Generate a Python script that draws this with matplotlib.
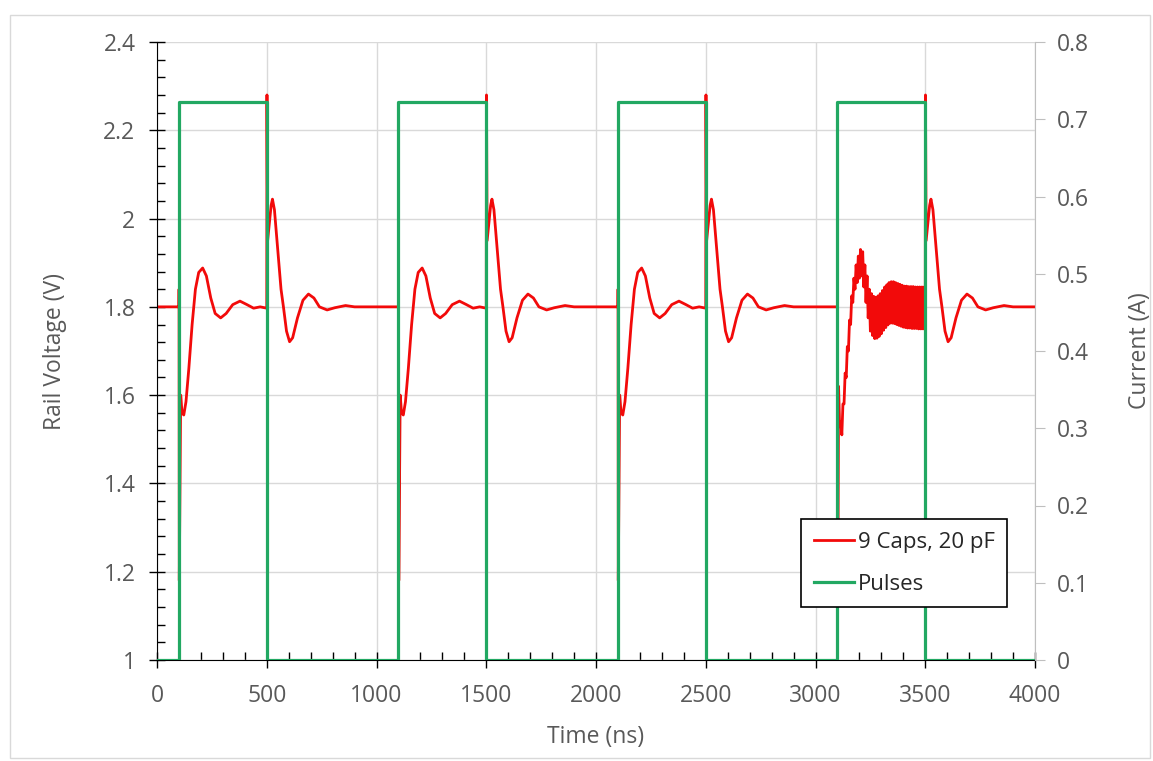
import numpy as np
import matplotlib
matplotlib.use("Agg")
import matplotlib.pyplot as plt
from matplotlib.ticker import MultipleLocator, FuncFormatter
from matplotlib.patches import Rectangle

plt.rcParams['font.family'] = ['Open Sans', 'DejaVu Sans']

# pulse timing (ns) and current level (A)
pulse_starts = [100, 1100, 2100, 3100]
pulse_width = 400
pulse_level = 0.722
t_end = 4000
v_rest = 1.80

# rail response after the rising edge: offset (ns) from pulse start, volts
rise_off = [0, 0.5, 1.5, 8, 14, 22, 32, 45, 60, 75, 90, 108, 125, 145, 165, 190,
            215, 245, 278, 310, 340, 370, 399]
rise_v = [1.800, 1.840, 1.180, 1.600, 1.560, 1.555, 1.585, 1.660, 1.760, 1.840,
          1.878, 1.888, 1.870, 1.820, 1.785, 1.775, 1.785, 1.805, 1.813, 1.805,
          1.797, 1.800, 1.797]

# rail response after the falling edge: offset (ns) from pulse end, volts
fall_off = [0, 1, 4, 10, 20, 26, 35, 50, 65, 76, 90, 104, 118, 140, 165, 190,
            215, 240, 275, 310, 359, 400, 500, 600]
fall_v = [1.797, 2.280, 1.950, 1.980, 2.030, 2.044, 2.020, 1.930, 1.840, 1.800,
          1.745, 1.721, 1.730, 1.775, 1.815, 1.829, 1.820, 1.800, 1.793, 1.798,
          1.803, 1.800, 1.800, 1.800]

# last pulse rings at high frequency, sampled every 5 ns from 3105 to 3495
ring_start = [3100, 3100.5, 3101.5]
ring_start_v = [1.800, 1.840, 1.180]
ring_v = [
    1.62, 1.53, 1.54, 1.51, 1.58, 1.58, 1.65, 1.64, 1.71, 1.70,
    1.77, 1.76, 1.825, 1.81, 1.865, 1.84, 1.895, 1.855, 1.915, 1.865,
    1.93, 1.87, 1.925, 1.845, 1.895, 1.81, 1.87, 1.775, 1.84, 1.745,
    1.83, 1.735, 1.824, 1.728, 1.822, 1.729, 1.825, 1.733, 1.83, 1.739,
    1.837, 1.747, 1.845, 1.753, 1.85, 1.759, 1.855, 1.763, 1.857, 1.763,
    1.857, 1.762, 1.855, 1.76, 1.853, 1.758, 1.851, 1.756, 1.849, 1.754,
    1.847, 1.753, 1.847, 1.752, 1.846, 1.752, 1.846, 1.751, 1.846, 1.751,
    1.845, 1.751, 1.845, 1.75, 1.845, 1.75, 1.845, 1.75, 1.845,
]
ring_t = np.arange(3105, 3500, 5)

# build the voltage trace
vt = [0.0]
vv = [v_rest]
for k, t0 in enumerate(pulse_starts):
    if k < len(pulse_starts) - 1:
        vt += [t0 + o for o in rise_off]
        vv += rise_v
        nxt = pulse_starts[k + 1]
    else:
        vt += ring_start + list(ring_t)
        vv += ring_start_v + ring_v
        nxt = t_end + 1
    t1 = t0 + pulse_width
    for o, v in zip(fall_off, fall_v):
        if t1 + o < nxt:
            vt.append(t1 + o)
            vv.append(v)
vt.append(t_end)
vv.append(v_rest)

# build the current pulse train
ct = [0]
cv = [0]
for t0 in pulse_starts:
    ct += [t0, t0, t0 + pulse_width, t0 + pulse_width]
    cv += [0, pulse_level, pulse_level, 0]
ct.append(t_end)
cv.append(0)

fig = plt.figure(figsize=(11.53, 7.61), dpi=100)
fig.patches.append(Rectangle((10 / 1153, 3 / 761), 1140 / 1153, 743 / 761,
                             transform=fig.transFigure, fill=False,
                             edgecolor='#d9d9d9', linewidth=1))
ax = fig.add_axes([157 / 1153, 101 / 761, 878 / 1153, 618 / 761])
ax2 = ax.twinx()

red, = ax.plot(vt, vv, color='#f20a0a', linewidth=2.0, label='9 Caps, 20 pF')
green, = ax2.plot(ct, cv, color='#22a862', linewidth=2.3, label='Pulses')

gray = '#595959'
fs = 16.5
ax.set_xlim(0, 4000)
ax.set_ylim(1, 2.4)
ax2.set_ylim(0, 0.8)

ax.xaxis.set_major_locator(MultipleLocator(500))
ax.xaxis.set_minor_locator(MultipleLocator(100))
ax.yaxis.set_major_locator(MultipleLocator(0.2))
ax.yaxis.set_minor_locator(MultipleLocator(0.04))
ax2.yaxis.set_major_locator(MultipleLocator(0.1))
fmt = FuncFormatter(lambda v, p: '%g' % round(v, 3))
ax.xaxis.set_major_formatter(fmt)
ax.yaxis.set_major_formatter(fmt)
ax2.yaxis.set_major_formatter(fmt)

ax.grid(True, which='major', color='#d9d9d9', linewidth=1)
ax.set_axisbelow(True)

for s in ['top', 'right']:
    ax.spines[s].set_visible(False)
ax.spines['left'].set_color('black')
ax.spines['bottom'].set_color('black')
for s in ['top', 'left', 'bottom']:
    ax2.spines[s].set_visible(False)
ax2.spines['right'].set_color('#bfbfbf')

ax.tick_params(axis='both', which='major', direction='inout', length=11,
               width=1, colors='black', labelcolor=gray, labelsize=fs)
ax.tick_params(axis='y', which='major', pad=10)
ax.tick_params(axis='x', which='major', pad=12)
ax.tick_params(axis='both', which='minor', direction='in', length=6, width=1,
               colors='black')
ax2.tick_params(axis='y', which='major', direction='out', length=7,
                colors='#bfbfbf', labelcolor=gray, labelsize=fs, pad=9)

ax.set_xlabel('Time (ns)', color=gray, fontsize=fs, labelpad=12)
ax.set_ylabel('Rail Voltage (V)', color=gray, fontsize=fs, labelpad=26)
ax2.set_ylabel('Current (A)', color=gray, fontsize=fs, labelpad=28)

leg = ax2.legend([red, green], ['9 Caps, 20 pF', 'Pulses'],
                 loc='lower left', bbox_to_anchor=(0.734, 0.086),
                 fontsize=16, frameon=True, fancybox=False, framealpha=1,
                 edgecolor='black', handlelength=1.8, handletextpad=0.2,
                 labelspacing=0.95, borderpad=0.55, borderaxespad=0)
leg.get_frame().set_linewidth(1.2)
for txt in leg.get_texts():
    txt.set_color('#262626')

fig.savefig('out.png', dpi=100)
